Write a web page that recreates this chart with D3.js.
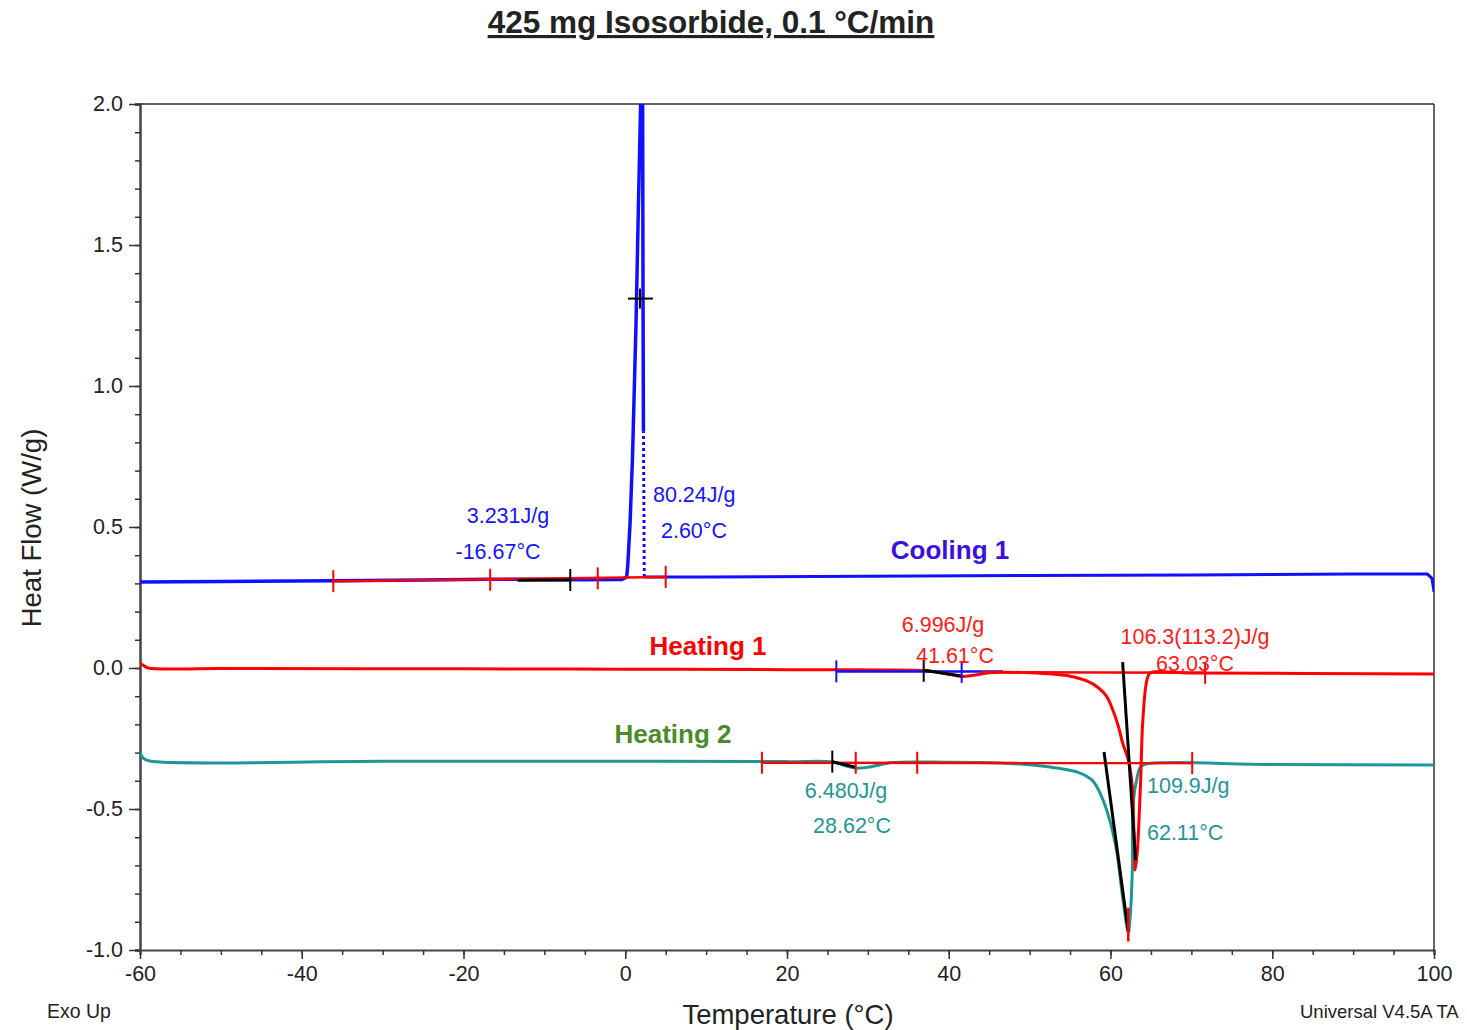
<!DOCTYPE html>
<html><head><meta charset="utf-8">
<script src="https://cdn.jsdelivr.net/npm/d3@7"></script>
<style>body{margin:0;background:#fff} text{font-family:"Liberation Sans",Arial,sans-serif}</style>
</head><body><svg id="c" width="1467" height="1030"></svg>
<script>
// ---------------- data ----------------
const xTickValues = [-60,-40,-20,0,20,40,60,80,100];
const xTickLabels = ["-60","-40","-20","0","20","40","60","80","100"];
const yTickValues = [-1.0,-0.5,0,0.5,1.0,1.5,2.0];
const yTickLabels = ["-1.0","-0.5","0.0","0.5","1.0","1.5","2.0"];

// Cooling 1 (from 100 °C downward)
const cooling1A = [[100,0.27],[99.75,0.318],[99.2,0.333],[90,0.333],[70,0.330],[50,0.328],[30,0.325],[10,0.323],[2.35,0.323]];
const cooling1Dotted = [[2.35,0.323],[2.3,0.6],[2.25,0.84]];
const cooling1B = [[2.25,0.84],[2.2,1.3],[2.15,2.0],[2.1,2.3],[1.95,2.3],[1.9,2.0],[1.6,1.6],[1.33,1.22],[0.9,0.75],[0.59,0.51],[0.3,0.36],[0.18,0.323],[-0.4,0.314],[-5,0.313],[-10,0.314],[-17,0.315],[-25,0.312],[-36,0.309],[-50,0.307],[-60,0.305]];
// Heating 1
const heating1 = [[-60,0.016],[-59.5,0.008],[-59,0.0],[-50,-0.002],[-20,-0.003],[0,-0.004],[20,-0.006],[36,-0.008],[38,-0.012],[40,-0.022],[41.6,-0.03],[43,-0.026],[45,-0.017],[47,-0.015],[50,-0.017],[53,-0.022],[55,-0.029],[57,-0.045],[58.5,-0.07],[59.5,-0.1],[60.3,-0.15],[61,-0.21],[61.5,-0.266],[62.2,-0.326],[62.7,-0.42],[62.85,-0.54],[63.0,-0.656],[63.05,-0.716],[63.3,-0.656],[63.7,-0.42],[64.0,-0.184],[64.5,-0.043],[64.9,-0.018],[70,-0.018],[100,-0.021]];
// Heating 2
const heating2 = [[-60,-0.30],[-59.6,-0.32],[-58.8,-0.33],[-30,-0.331],[0,-0.331],[20,-0.332],[25.6,-0.333],[27,-0.345],[28.6,-0.355],[30,-0.352],[31.5,-0.343],[33,-0.335],[40,-0.334],[46.3,-0.337],[50,-0.343],[52.5,-0.351],[54.5,-0.36],[56,-0.37],[57,-0.383],[57.8,-0.4],[58.7,-0.443],[59.9,-0.539],[60.8,-0.656],[61.5,-0.812],[62.2,-0.936],[62.4,-0.894],[62.7,-0.716],[62.8,-0.479],[63.3,-0.387],[63.7,-0.351],[64.5,-0.34],[80,-0.342],[100,-0.344]];

// analysis overlays
const segments = [
  {pts:[[-36.1,0.308],[5.0,0.323]], color:"red"},
  {pts:[[-13.3,0.311],[-6.8,0.312]], color:"black"},
  {pts:[[26.1,-0.012],[46.7,-0.012]], color:"blue"},
  {pts:[[36.9,-0.008],[41.6,-0.028]], color:"black"},
  {pts:[[44,-0.015],[71.7,-0.017]], color:"red"},
  {pts:[[61.5,0.021],[63.1,-0.681]], color:"black"},
  {pts:[[16.9,-0.336],[70.1,-0.337]], color:"red"},
  {pts:[[25.6,-0.332],[28.5,-0.352]], color:"black"},
  {pts:[[59.2,-0.298],[62.2,-0.936]], color:"black"},
  {pts:[[62.2,-0.85],[62.2,-0.97]], color:"red"}
];
const tickMarks = [
  {t:-36.1,v:0.308,color:"red"},{t:-16.7,v:0.313,color:"red"},{t:-3.4,v:0.318,color:"red"},{t:5.0,v:0.323,color:"red"},
  {t:-6.8,v:0.312,color:"black"},
  {t:26.1,v:-0.012,color:"blue"},{t:41.6,v:-0.014,color:"blue"},{t:36.9,v:-0.01,color:"black"},
  {t:71.7,v:-0.017,color:"red"},
  {t:16.9,v:-0.336,color:"red"},{t:28.5,v:-0.336,color:"red"},{t:36.1,v:-0.336,color:"red"},{t:70.1,v:-0.337,color:"red"},
  {t:25.6,v:-0.332,color:"black"}
];
const crosshair = [1.82,1.31];

const labels = [
  {text:"3.231J/g", t:-14.5, v:0.514, anchor:"middle", color:"#1515ff", size:21.5, bold:false},
  {text:"-16.67°C", t:-15.73, v:0.387, anchor:"middle", color:"#1515ff", size:21.5, bold:false},
  {text:"80.24J/g", t:3.43, v:0.589, anchor:"start", color:"#1515ff", size:21.5, bold:false},
  {text:"2.60°C", t:4.42, v:0.461, anchor:"start", color:"#1515ff", size:21.5, bold:false},
  {text:"Cooling 1", t:40.16, v:0.387, anchor:"middle", color:"#3a0fe0", size:26, bold:true},
  {text:"Heating 1", t:10.23, v:0.046, anchor:"middle", color:"#ff0000", size:26, bold:true},
  {text:"Heating 2", t:5.9, v:-0.266, anchor:"middle", color:"#4c8a2a", size:26, bold:true},
  {text:"6.996J/g", t:39.29, v:0.128, anchor:"middle", color:"#ff1a1a", size:21.5, bold:false},
  {text:"41.61°C", t:40.77, v:0.018, anchor:"middle", color:"#ff1a1a", size:21.5, bold:false},
  {text:"106.3(113.2)J/g", t:70.45, v:0.085, anchor:"middle", color:"#ff1a1a", size:21.5, bold:false},
  {text:"63.03°C", t:70.45, v:-0.011, anchor:"middle", color:"#ff1a1a", size:21.5, bold:false},
  {text:"6.480J/g", t:27.3, v:-0.461, anchor:"middle", color:"#1f9696", size:21.5, bold:false},
  {text:"28.62°C", t:28.04, v:-0.585, anchor:"middle", color:"#1f9696", size:21.5, bold:false},
  {text:"109.9J/g", t:64.51, v:-0.443, anchor:"start", color:"#1f9696", size:21.5, bold:false},
  {text:"62.11°C", t:64.51, v:-0.61, anchor:"start", color:"#1f9696", size:21.5, bold:false}
];

// ---------------- drawing ----------------
const svg = d3.select("#c");
const L=140, R=1434, T=104, B=950;
const x = d3.scaleLinear().domain([-60,100]).range([L,R]);
const y = d3.scaleLinear().domain([-1,2]).range([B,T]);
const ink = "#222";

svg.append("defs").append("clipPath").attr("id","clip")
  .append("rect").attr("x",L).attr("y",T).attr("width",R-L).attr("height",B-T);

// title
svg.append("text").attr("x",711).attr("y",33).attr("text-anchor","middle")
  .attr("font-size",31.5).attr("font-weight","bold").attr("fill",ink)
  .style("text-decoration","underline").text("425 mg Isosorbide, 0.1 °C/min");

// frame
svg.append("line").attr("x1",L).attr("x2",R).attr("y1",T).attr("y2",T).attr("stroke","#333").attr("stroke-width",1.5);
svg.append("line").attr("x1",R).attr("x2",R).attr("y1",T).attr("y2",B).attr("stroke","#333").attr("stroke-width",1.5);

// x axis
const xMinor = d3.range(-60,100.1,5);
const gx = svg.append("g").attr("transform",`translate(0,${B})`);
gx.call(d3.axisBottom(x).tickValues(xMinor).tickSize(5).tickFormat(""));
gx.select(".domain").attr("stroke","#444").attr("stroke-width",2);
const gx2 = svg.append("g").attr("transform",`translate(0,${B})`);
gx2.call(d3.axisBottom(x).tickValues(xTickValues).tickSize(9).tickPadding(7).tickFormat((d,i)=>xTickLabels[i]));
gx2.select(".domain").remove();
gx.selectAll("line").attr("stroke","#333").attr("stroke-width",1.5);
gx2.selectAll("line").attr("stroke","#333").attr("stroke-width",1.5);
gx2.selectAll("text").attr("font-size",21.5).attr("fill",ink).attr("font-family","Liberation Sans, Arial, sans-serif");

// y axis
const yMinor = d3.range(-10,20.1,1).map(d=>d/10);
const gy = svg.append("g").attr("transform",`translate(${L},0)`);
gy.call(d3.axisLeft(y).tickValues(yMinor).tickSize(5).tickFormat(""));
gy.select(".domain").attr("stroke","#444").attr("stroke-width",2.5);
const gy2 = svg.append("g").attr("transform",`translate(${L},0)`);
gy2.call(d3.axisLeft(y).tickValues(yTickValues).tickSize(11).tickPadding(6).tickFormat((d,i)=>yTickLabels[i]));
gy2.select(".domain").remove();
gy.selectAll("line").attr("stroke","#333").attr("stroke-width",1.5);
gy2.selectAll("line").attr("stroke","#333").attr("stroke-width",1.5);
gy2.selectAll("text").attr("font-size",21.5).attr("fill",ink).attr("font-family","Liberation Sans, Arial, sans-serif");

// axis titles
svg.append("text").attr("x",788).attr("y",1024).attr("text-anchor","middle")
  .attr("font-size",27.5).attr("fill",ink).text("Temperature (°C)");
svg.append("text").attr("transform","translate(41,528) rotate(-90)").attr("text-anchor","middle")
  .attr("font-size",27.5).attr("fill",ink).text("Heat Flow (W/g)");
svg.append("text").attr("x",47).attr("y",1018).attr("font-size",19.5).attr("fill",ink).text("Exo Up");
svg.append("text").attr("x",1300).attr("y",1018).attr("font-size",18.5).attr("fill",ink).text("Universal V4.5A TA");

// curves
const plot = svg.append("g").attr("clip-path","url(#clip)");
const line = d3.line().x(d=>x(d[0])).y(d=>y(d[1]));
const smooth = d3.line().x(d=>x(d[0])).y(d=>y(d[1])).curve(d3.curveCatmullRom.alpha(0.5));
const blue="#1010ff", red="#ff0000", teal="#1f9696";
plot.append("path").attr("d",smooth(heating2)).attr("fill","none").attr("stroke",teal).attr("stroke-width",3).attr("stroke-linejoin","round");
plot.append("path").attr("d",smooth(heating1)).attr("fill","none").attr("stroke",red).attr("stroke-width",3).attr("stroke-linejoin","round");
plot.append("path").attr("d",line(cooling1A)).attr("fill","none").attr("stroke",blue).attr("stroke-width",3).attr("stroke-linejoin","round");
plot.append("path").attr("d",line(cooling1B)).attr("fill","none").attr("stroke",blue).attr("stroke-width",3.5).attr("stroke-linejoin","round");
plot.append("path").attr("d",line(cooling1Dotted)).attr("fill","none").attr("stroke",blue).attr("stroke-width",3).attr("stroke-dasharray","3,3");

// overlays
const colorMap = {red:"#ff0000", black:"#000", blue:"#1010ff"};
segments.forEach(s=>{
  plot.append("path").attr("d",line(s.pts)).attr("fill","none")
    .attr("stroke",colorMap[s.color]).attr("stroke-width",s.color==="black"?3:2.5);
});
plot.selectAll("line.tk").data(tickMarks).join("line").attr("class","tk")
  .attr("x1",d=>x(d.t)).attr("x2",d=>x(d.t))
  .attr("y1",d=>y(d.v)-11).attr("y2",d=>y(d.v)+11)
  .attr("stroke",d=>colorMap[d.color]).attr("stroke-width",2);
plot.append("line").attr("x1",x(crosshair[0])-12).attr("x2",x(crosshair[0])+13)
  .attr("y1",y(crosshair[1])).attr("y2",y(crosshair[1])).attr("stroke","#000").attr("stroke-width",2);
plot.append("line").attr("x1",x(crosshair[0])).attr("x2",x(crosshair[0]))
  .attr("y1",y(crosshair[1])-10).attr("y2",y(crosshair[1])+10).attr("stroke","#000").attr("stroke-width",2);

// labels
svg.selectAll("text.lab").data(labels).join("text").attr("class","lab")
  .attr("x",d=>x(d.t)).attr("y",d=>y(d.v)).attr("text-anchor",d=>d.anchor)
  .attr("font-size",d=>d.size).attr("font-weight",d=>d.bold?"bold":"normal")
  .attr("fill",d=>d.color).text(d=>d.text);
</script></body></html>
